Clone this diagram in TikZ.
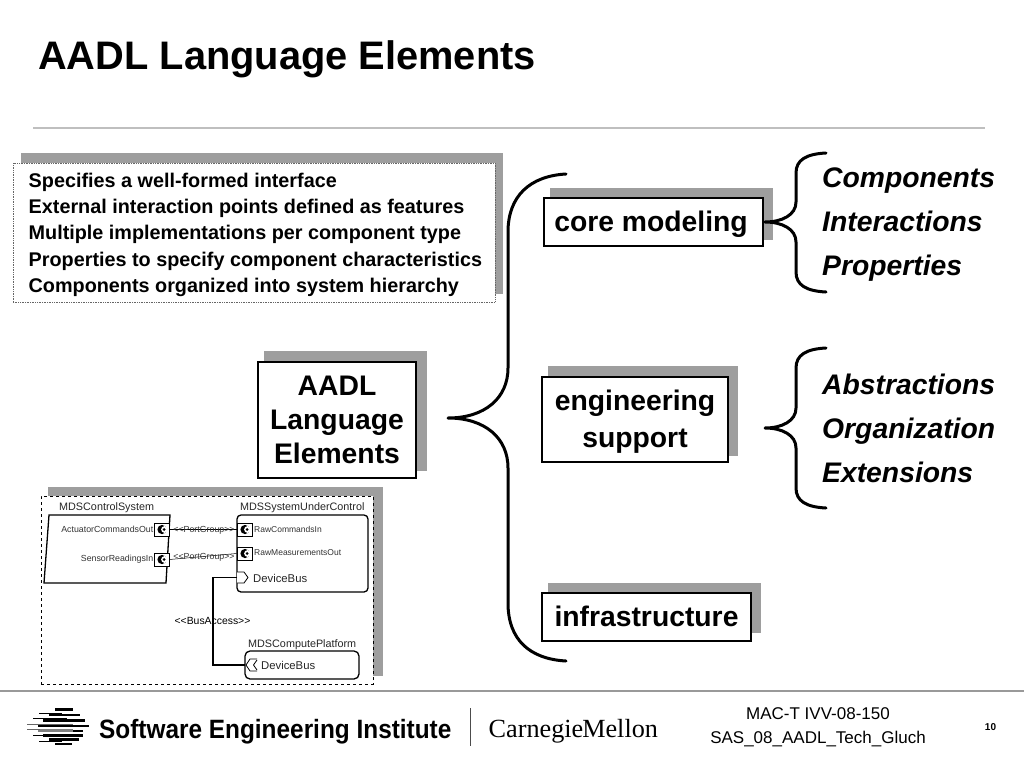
\documentclass[tikz,border=0pt]{standalone}
\usepackage{fontspec}
\usepackage{graphicx}
\setmainfont{Liberation Sans}
\newfontfamily\serifx{Liberation Serif}
\newcommand{\fsz}[1]{\fontsize{#1}{#1}\selectfont}
\definecolor{shade}{gray}{0.62}
\tikzset{
 x=1pt,y=-1pt,
 shadowbox/.style={fill=shade,draw=none},
 mainbox/.style={draw=black,line width=2.6pt,fill=white,inner sep=0pt,align=center,font=\fsz{28.3}\bfseries},
 brace/.style={line width=3pt,line cap=round,line join=round},
 item/.style={anchor=base west,inner sep=0pt,font=\fsz{28.3}\bfseries\itshape},
 feat/.style={anchor=base west,inner sep=0pt,font=\fsz{19.8}\bfseries},
 small/.style={inner sep=0pt,font=\fsz{8.8},text=black!80},
 smallb/.style={inner sep=0pt,font=\fsz{8.5},text=black!80},
 mid/.style={inner sep=0pt,font=\fsz{10.8},text=black!85},
 busname/.style={inner sep=0pt,font=\fsz{11.3},text=black!85},
 sk/.style={line width=1.3pt},
 port/.style={draw,line width=0.8pt,fill=white,minimum width=15pt,minimum height=13pt,inner sep=0pt},
 stripe/.style={line width=2.6pt},
 thinstripe/.style={line width=1pt},
 gstripe/.style={line width=2.6pt,draw=black!50},
 foot/.style={anchor=base,inner sep=0pt,font=\fsz{17}},
}
\begin{document}
\begin{tikzpicture}
\useasboundingbox (0,0) rectangle (1024,768);
\fill[white] (0,0) rectangle (1024,768);
% title
\node[anchor=base west,inner sep=0pt,font=\fsz{39.8}\bfseries] (title) at (38,69.5) {AADL Language Elements};
\coordinate (r1a) at (33,128); \coordinate (r1b) at (985,128);
\draw[black!25,line width=1.2pt] (r1a) -- (r1b);
% feature box
\fill[shadowbox] (21,153) rectangle (503,294);
\node[draw=black!60,densely dotted,line width=0.7pt,fill=white,inner sep=0pt,minimum width=482pt,minimum height=139pt] (feat) at (254,232.5) {};
\node[feat] (f1) at (28.5,187) {Specifies a well-formed interface};
\node[feat] (f2) at (28.5,213) {External interaction points defined as features};
\node[feat] (f3) at (28.5,239.5) {Multiple implementations per component type};
\node[feat] (f4) at (28.5,266) {Properties to specify component characteristics};
\node[feat] (f5) at (28.5,292) {Components organized into system hierarchy};
% main boxes
\fill[shadowbox] (264,351) rectangle (427,471);
\node[mainbox,minimum width=158pt,minimum height=116pt] (aadl) at (337,420) {\raisebox{25pt}[0pt][0pt]{\begin{tabular}[t]{@{}c@{}}AADL\\[5.7pt]Language\\[5.7pt]Elements\end{tabular}}};
\fill[shadowbox] (550,188) rectangle (773,240);
\node[mainbox,minimum width=219pt,minimum height=48pt] (core) at (653.5,222) {\hspace*{-5pt}\raisebox{-9pt}[0pt][0pt]{core modeling}};
\fill[shadowbox] (548,366) rectangle (738,456);
\node[mainbox,minimum width=186pt,minimum height=85pt] (eng) at (635,419.5) {\raisebox{9.5pt}[0pt][0pt]{\begin{tabular}[t]{@{}c@{}}engineering\\[8.7pt]support\end{tabular}}};
\fill[shadowbox] (548,583) rectangle (761,633);
\node[mainbox,minimum width=209pt,minimum height=48pt] (infra) at (646.5,617) {\raisebox{-9pt}[0pt][0pt]{infrastructure}};
% braces
\coordinate (btip) at (448,418); \coordinate (btop) at (566,174); \coordinate (bbot) at (566,661);
\draw[brace] (btop) .. controls (530,176) and (508,196) .. (508,232) -- (508,368)
  .. controls (508,398) and (485,418) .. (btip)
  .. controls (485,418) and (508,438) .. (508,468) -- (508,603)
  .. controls (508,640) and (530,659) .. (bbot);
\coordinate (c1tip) at (765,222); \coordinate (c1top) at (826,153); \coordinate (c1bot) at (826,292);
\draw[brace] (c1top) .. controls (806,154) and (796,160) .. (796,173) -- (796,202)
  .. controls (796,215) and (782,222) .. (c1tip)
  .. controls (782,222) and (796,229) .. (796,242) -- (796,272)
  .. controls (796,285) and (806,291) .. (c1bot);
\coordinate (c2tip) at (765,428); \coordinate (c2top) at (826,348); \coordinate (c2bot) at (826,508);
\draw[brace] (c2top) .. controls (806,349) and (796,355) .. (796,368) -- (796,408)
  .. controls (796,421) and (782,428) .. (c2tip)
  .. controls (782,428) and (796,435) .. (796,448) -- (796,488)
  .. controls (796,501) and (806,507) .. (c2bot);
% items
\node[item] (i1) at (822,187) {Components};
\node[item] (i2) at (822,231.5) {Interactions};
\node[item] (i3) at (822,275.5) {Properties};
\node[item] (i4) at (822,394) {Abstractions};
\node[item] (i5) at (822,438) {Organization};
\node[item] (i6) at (822,482.5) {Extensions};
% sketch
\fill[shadowbox] (48,487) rectangle (383,676);
\node[draw,dashed,line width=0.8pt,fill=white,inner sep=0pt,minimum width=332pt,minimum height=188pt] (frame) at (207,590) {};
\draw[sk] (49,515) -- (170,515) -- (166,583) -- (44,583) -- cycle;
\node[mid,anchor=west] (n1) at (59,507.5) {MDSControlSystem};
\node[mid,anchor=west] (n2) at (240,507.5) {MDSSystemUnderControl};
\node[mid,anchor=west] (n3) at (248,645) {MDSComputePlatform};
\node[draw,line width=1.3pt,rounded corners=4pt,inner sep=0pt,minimum width=131pt,minimum height=77pt] (suc) at (302.5,553.5) {};
\node[draw,line width=1.3pt,rounded corners=5pt,inner sep=0pt,minimum width=114pt,minimum height=28pt] (cp) at (302,665) {};
\node[port] (p1) at (161.5,529.5) {}; \node[port] (p2) at (161.5,559.5) {};
\node[port] (p3) at (244.5,529.5) {}; \node[port] (p4) at (244.5,553.5) {};
\foreach \c in {p1,p2,p3,p4}{
  \fill ([xshift=0.5pt]\c.center) circle (4.6pt);
  \fill[white] ([xshift=3pt]\c.center) circle (3.4pt);
  \fill ([xshift=2.6pt]\c.center) circle (1.5pt);
}
\node[small,anchor=east] (t1) at (153.5,529.5) {ActuatorCommandsOut};
\node[small,anchor=east] (t2) at (153.5,559.5) {SensorReadingsIn};
\node[smallb,anchor=west] (t3) at (254,529) {RawCommandsIn};
\node[smallb,anchor=west] (t4) at (254,553) {RawMeasurementsOut};
\draw[line width=0.5pt] (p1.east) -- (p3.west);
\draw[line width=0.5pt] (p2.east) -- (p4.west);
\node[small] (pg1) at (204,530.5) {<{}<PortGroup>{}>};
\node[small] (pg2) at (204,557.5) {<{}<PortGroup>{}>};
% device bus
\coordinate (db1) at (237,577.5);
\coordinate (db2) at (245,665);
\draw[line width=0.8pt,fill=white] (237,572) -- (244,572) -- (248,577.5) -- (244,583) -- (237,583);
\draw[line width=0.8pt] (db2) ++(12,-6) -- ++(-7,0) -- ++(-4,6) -- ++(4,6) -- ++(7,0);
\draw[line width=0.8pt] (257,660) -- (253.5,665) -- (257,670);
\node[busname,anchor=west] (d1) at (253,578) {DeviceBus};
\node[busname,anchor=west] (d2) at (261,665.5) {DeviceBus};
\draw[line width=1.1pt] (db1) -- (213,577.5) -- (213,665) -- (db2);
\node[inner sep=0pt,font=\fsz{10.4},text=black] (ba) at (212.5,621) {<{}<BusAccess>{}>};
% footer
\coordinate (r2a) at (0,691); \coordinate (r2b) at (1024,691);
\draw[black!40,line width=1.2pt] (r2a) -- (r2b);
\foreach \ya/\xa/\xb in {709.5/55/73,715/49/80,720.5/43/85,726/38/89,731/73/83,735.5/43/83,739.5/49/79,744/55/72}{
  \draw[stripe] (\xa,\ya) -- (\xb,\ya);
}
\draw[gstripe] (38,730.5) -- (73,730.5);
\foreach \ya/\xa/\xb in {713/39/62,718/33/67,735/33/67,741/39/62}{
  \draw[thinstripe] (\xa,\ya) -- (\xb,\ya);
}
\draw[thinstripe,draw=black!60] (27,724) -- (73,724);
\draw[thinstripe,draw=black!60] (27,729.5) -- (40,729.5);
\node[anchor=base west,inner sep=0pt,font=\fsz{26.5}\bfseries] (sei) at (99,738) {\scalebox{0.92}[1]{Software Engineering Institute}};
\coordinate (da) at (470,708); \coordinate (db) at (470,746);
\draw[black!70,line width=0.9pt] (da) -- (db);
\node[anchor=base west,inner sep=0pt,font=\serifx\fsz{26.2}] (cmu) at (488.5,737) {Carnegie\kern-1pt Mellon};
\node[foot] (mac) at (818,719) {MAC-T IVV-08-150};
\node[foot] (sas) at (818,743) {SAS\_08\_AADL\_Tech\_Gluch};
\node[inner sep=0pt,font=\fsz{10}\bfseries] (num) at (990.5,727) {10};
\end{tikzpicture}
\end{document}
